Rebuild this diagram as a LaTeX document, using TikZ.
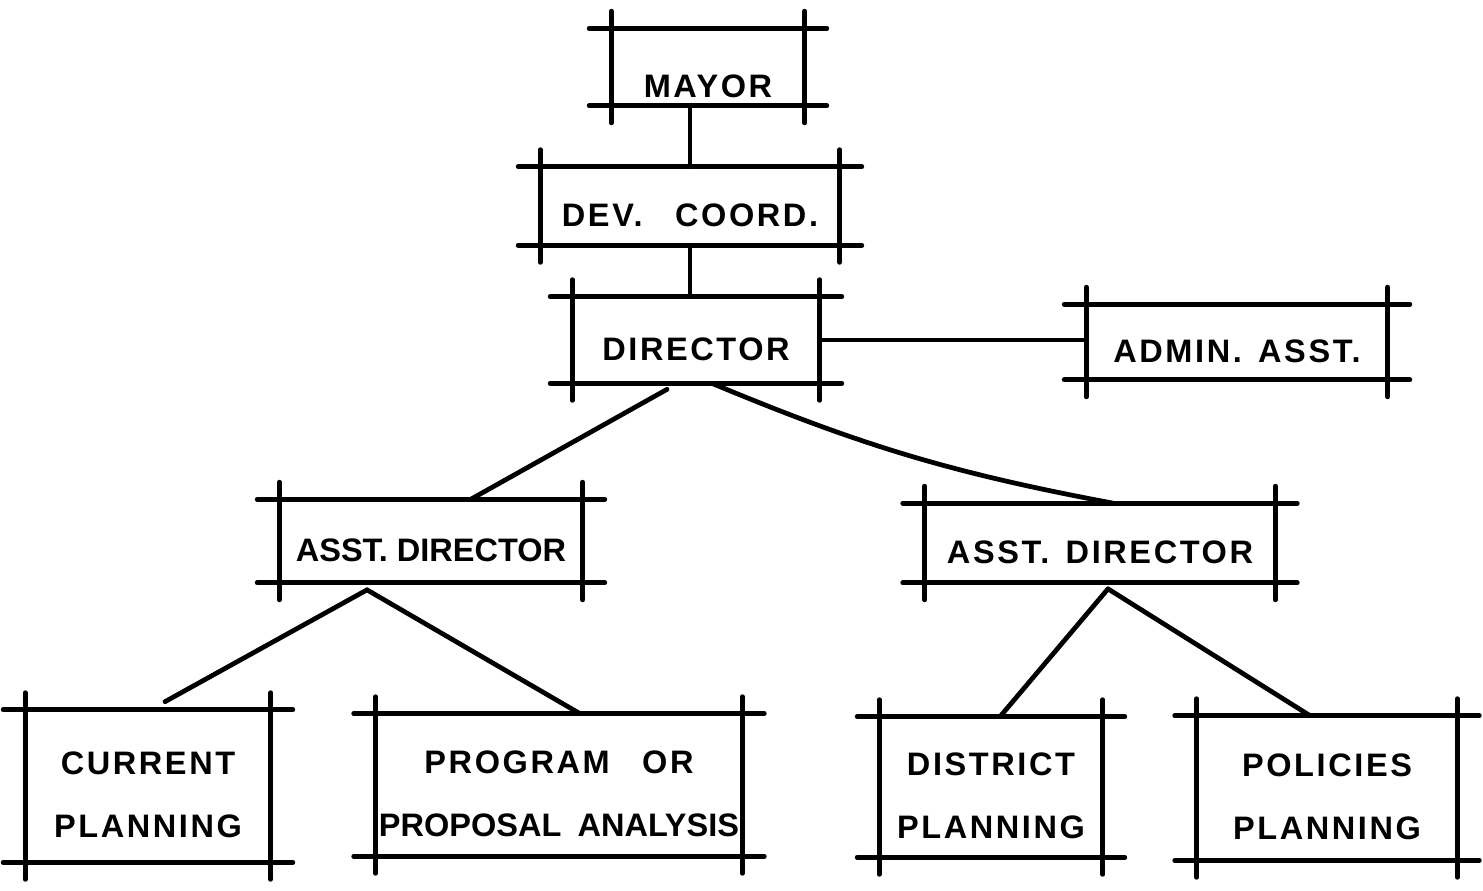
\documentclass[tikz,border=0pt]{standalone}
\usepackage{fontspec}
\setmainfont[LetterSpace=8]{Liberation Sans}
\usepackage{tikz}
\usetikzlibrary{calc}
% text sits a little low in every box
\newcommand{\lowtxt}[2][7pt]{\raisebox{-#1}[\height][\depth]{\begin{tabular}{@{}c@{}}#2\end{tabular}}}
\newcommand{\tight}{\addfontfeature{LetterSpace=0}}

\begin{document}
\begin{tikzpicture}[
  x=0.02cm, y=-0.02cm,
  every node/.style={font=\fontsize{18.5}{22}\selectfont\bfseries},
  office/.style={inner sep=0pt, align=center},
  frame/.style={line width=2.7pt, line cap=round},
  link/.style={line width=2.7pt, line cap=round}
]
  \useasboundingbox (0,0) rectangle (1483,890);

  % Top of the chart
  \node[office, minimum width=3.86cm, minimum height=1.54cm] (mayor) at (708,67) {\lowtxt[13pt]{MAYOR}};
  \node[office, minimum width=5.98cm, minimum height=1.56cm] (dev) at (690,206) {\lowtxt{DEV.\quad COORD.}};
  \node[office, minimum width=4.94cm, minimum height=1.72cm] (dir) at (696,340) {\lowtxt{DIRECTOR}};
  \node[office, minimum width=6.02cm, minimum height=1.50cm] (admin) at (1237,342) {\lowtxt{ADMIN.\enspace ASST.}};

  % Assistant directors
  \node[office, minimum width=6.06cm, minimum height=1.66cm] (asstl) at (431,541) {\lowtxt{\tight ASST. DIRECTOR}};
  \node[office, minimum width=7.00cm, minimum height=1.58cm] (asstr) at (1100,543) {\lowtxt{ASST.\enspace DIRECTOR}};

  % Planning units
  \node[office, minimum width=4.90cm, minimum height=3.04cm] (cur) at (148,786) {\lowtxt{CURRENT\\[14pt] PLANNING}};
  \node[office, minimum width=7.32cm, minimum height=2.84cm] (prog) at (559,785) {\lowtxt{PROGRAM\quad OR\hspace{1.8cm}\\[14pt] {\tight PROPOSAL\enspace ANALYSIS}}};
  \node[office, minimum width=4.46cm, minimum height=2.80cm] (dist) at (991,787) {\lowtxt{DISTRICT\\[14pt] PLANNING}};
  \node[office, minimum width=5.20cm, minimum height=2.88cm] (pol) at (1327,788) {\lowtxt{POLICIES\\[14pt] PLANNING}};

  % Sketched frames, lines run past the corners
  \foreach \b in {mayor,dev,dir,admin,asstl,asstr,cur,prog,dist,pol}{
    \draw[frame] ($(\b.north west)+(-22,0)$) -- ($(\b.north east)+(22,0)$);
    \draw[frame] ($(\b.south west)+(-22,0)$) -- ($(\b.south east)+(22,0)$);
    \draw[frame] ($(\b.north west)+(0,-17)$) -- ($(\b.south west)+(0,17)$);
    \draw[frame] ($(\b.north east)+(0,-17)$) -- ($(\b.south east)+(0,17)$);
  }

  \coordinate (forkl) at ($(asstl.south)+(-64,7)$);
  \coordinate (forkr) at ($(asstr.south)+(8,6)$);

  \draw[link] (dev.north) -- (dev.north |- mayor.south);
  \draw[link] (dev.south) -- (dev.south |- dir.north);
  \draw[link] (dir.east) -- (dir.east -| admin.west);
  \draw[link] ($(dir.south)+(-29,6)$) -- ($(asstl.north)+(40,0)$);
  \draw[link] ($(dir.south)+(16,0)$) to[bend right=6] ($(asstr.north)+(13,0)$);
  \draw[link] (forkl) -- ($(cur.north)+(17,-8)$);
  \draw[link] (forkl) -- ($(prog.north)+(21,0)$);
  \draw[link] (forkr) -- ($(dist.north)+(9,0)$);
  \draw[link] (forkr) -- ($(pol.north)+(-17,0)$);

\end{tikzpicture}
\end{document}
